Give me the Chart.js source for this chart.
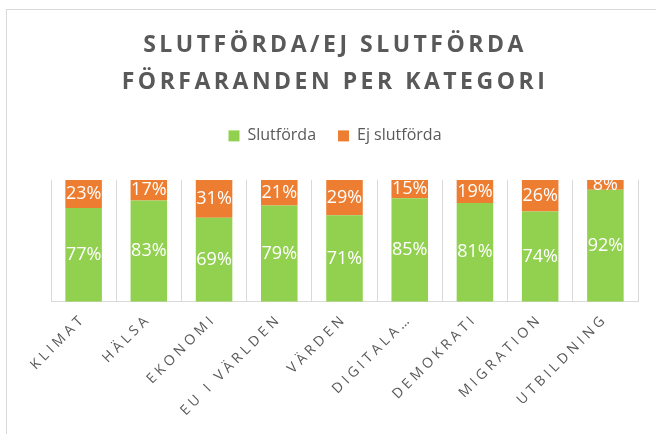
<!DOCTYPE html>
<html>
<head>
<meta charset="utf-8">
<script src="https://cdn.jsdelivr.net/npm/chart.js@4"></script>
<style>
  body { margin: 0; background: #fff; }
  #wrap { position: relative; width: 656px; height: 434px; overflow: hidden; }
  #frame { position: absolute; left: 6px; top: 9px; width: 800px; height: 600px; border: 1px solid #d9d9d9; }
  canvas { position: absolute; left: 0; top: 0; }
</style>
</head>
<body>
<div id="wrap">
  <div id="frame"></div>
  <canvas id="chart" width="656" height="434"></canvas>
</div>
<script>
const categories = ['KLIMAT', 'HÄLSA', 'EKONOMI', 'EU I VÄRLDEN', 'VÄRDEN', 'DIGITALA…', 'DEMOKRATI', 'MIGRATION', 'UTBILDNING'];
const slutforda = [77, 83, 69, 79, 71, 85, 81, 74, 92];
const ejSlutforda = [23, 17, 31, 21, 29, 15, 19, 26, 8];
const titleLines = ['SLUTFÖRDA/EJ SLUTFÖRDA', 'FÖRFARANDEN PER KATEGORI'];

const textGray = '#595959';
const gridGray = '#d9d9d9';
const tickSpacing = '3.8px';

// canvas letterSpacing for title and axis labels, none for the legend
function withSpacing(obj, name, spacing) {
  const orig = obj[name];
  obj[name] = function (...args) {
    const ctx = this.ctx;
    const prev = ctx.letterSpacing;
    ctx.letterSpacing = spacing;
    const res = orig.apply(this, args);
    ctx.letterSpacing = prev;
    return res;
  };
}

const spacingPlugin = {
  id: 'spacing',
  afterInit(chart) {
    withSpacing(chart.titleBlock, 'draw', '3.5px');
    withSpacing(chart.legend, 'fit', '0px');
    withSpacing(chart.legend, 'draw', '0px');
    const fit = chart.legend.fit;
    chart.legend.fit = function () {
      fit.call(this);
      this.height += 26;
    };
  },
  beforeUpdate(chart) { chart.ctx.letterSpacing = tickSpacing; },
  beforeDraw(chart) { chart.ctx.letterSpacing = tickSpacing; }
};

// white percentage labels in the middle of each segment
const segmentLabels = {
  id: 'segmentLabels',
  afterDatasetsDraw(chart) {
    const ctx = chart.ctx;
    const a = chart.chartArea;
    ctx.save();
    ctx.beginPath();
    ctx.rect(a.left, a.top, a.right - a.left, a.bottom - a.top);
    ctx.clip();
    ctx.letterSpacing = '0px';
    ctx.font = '18px "Open Sans"';
    ctx.fillStyle = '#ffffff';
    ctx.textAlign = 'center';
    ctx.textBaseline = 'middle';
    chart.data.datasets.forEach((ds, i) => {
      chart.getDatasetMeta(i).data.forEach((bar, j) => {
        ctx.fillText(ds.data[j] + '%', bar.x, (bar.y + bar.base) / 2);
      });
    });
    ctx.restore();
  }
};

new Chart(document.getElementById('chart'), {
  type: 'bar',
  data: {
    labels: categories,
    datasets: [
      { label: 'Slutförda', data: slutforda, backgroundColor: '#92d050', barPercentage: 0.56, categoryPercentage: 1 },
      { label: 'Ej slutförda', data: ejSlutforda, backgroundColor: '#ed7d31', barPercentage: 0.56, categoryPercentage: 1 }
    ]
  },
  options: {
    responsive: false,
    animation: false,
    layout: { padding: { left: 14, right: 0, top: 0, bottom: 6 } },
    scales: {
      x: {
        stacked: true,
        grid: { color: gridGray, drawTicks: false, offset: true },
        border: { color: gridGray },
        ticks: {
          color: textGray,
          font: { family: 'Open Sans', size: 14 },
          minRotation: 45,
          maxRotation: 45,
          autoSkip: false,
          padding: 9
        },
        afterFit(scale) {
          scale.paddingLeft = 51;
          scale.paddingRight = 18;
        }
      },
      y: { stacked: true, display: false, min: 0, max: 100 }
    },
    plugins: {
      title: {
        display: true,
        text: titleLines,
        color: textGray,
        font: { family: 'Open Sans', size: 23, weight: 'bold', lineHeight: 1.65 },
        padding: { top: 26, bottom: 4 }
      },
      legend: {
        labels: {
          color: textGray,
          font: { family: 'Open Sans', size: 16 },
          boxWidth: 11,
          boxHeight: 11,
          padding: 22
        }
      },
      tooltip: { enabled: false }
    }
  },
  plugins: [spacingPlugin, segmentLabels]
});
</script>
</body>
</html>
